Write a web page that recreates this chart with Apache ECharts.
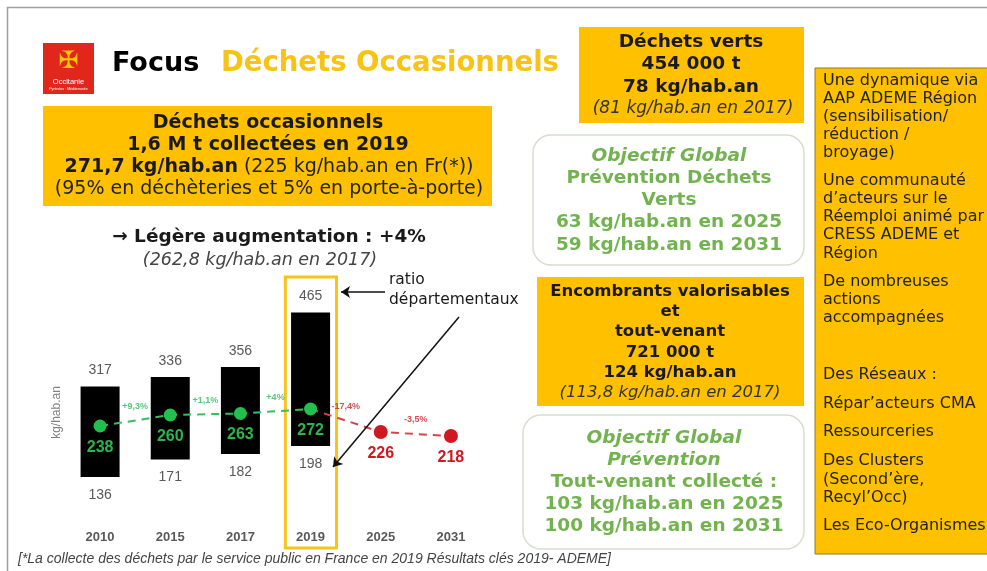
<!DOCTYPE html>
<html>
<head>
<meta charset="utf-8">
<title>Focus Déchets Occasionnels</title>
<script src="https://cdn.jsdelivr.net/npm/echarts@6/dist/echarts.min.js"></script>
<style>
  html, body { margin: 0; padding: 0; background: #fff; }
  #main { width: 987px; height: 571px; }
</style>
</head>
<body>
<div id="main"></div>
<script>
// données (kg/hab.an)
const annees = ['2010', '2015', '2017', '2019', '2025', '2031'];
const ratioMin = [136, 171, 182, 198, null, null];   // ratio départemental le plus bas
const ratioMax = [317, 336, 356, 465, null, null];   // ratio départemental le plus haut
const moyenne = [238, 260, 263, 272, null, null];    // moyenne régionale
const objectifs = [null, null, null, 272, 226, 218]; // trajectoire objectif
const evolutions = ['+9,3%', '+1,1%', '+4%', '-17,4%', '-3,5%'];

const VERD = "'DejaVu Sans', Verdana, sans-serif";
const CAL = "'Liberation Sans', Arial, sans-serif";
const JAUNE = '#FFC000';
const VERT = '#22C14F';
const ROUGE = '#CF1820';
const VERT_TXT = '#72B350';

const dash = v => (v == null ? '-' : v);
const serie = moyenne.map((v, i) => (v != null ? v : objectifs[i]));
const evolData = evolutions.map((txt, i) => ({
  value: [i + 0.5, (serie[i] + serie[i + 1]) / 2],
  label: { color: i < 3 ? '#2DB95A' : '#C8202A' }
}));

// petits helpers pour le décor
function txt(x, y, text, o) {
  return {
    type: 'text', x: x, y: y, silent: true,
    style: Object.assign({
      text: text, fill: '#1a1a1a', fontFamily: VERD, fontSize: 18,
      align: 'center', verticalAlign: 'middle',
      textAlign: 'center', textVerticalAlign: 'middle'
    }, o || {})
  };
}
function rect(x, y, w, h, style, r) {
  return { type: 'rect', silent: true, shape: { x: x, y: y, width: w, height: h, r: r || 0 }, style: style };
}
function lignes(x, ys, textes, o) {
  return textes.map((t, i) => txt(x, ys[i], t, Array.isArray(o) ? o[i] : o));
}

const BI = { fontWeight: 'bold', fontStyle: 'italic', fill: VERT_TXT, fontSize: 18.5 };
const BV = { fontWeight: 'bold', fill: VERT_TXT, fontSize: 18.5 };
const gauche = { align: 'left', textAlign: 'left', fontSize: 16, fill: '#222' };

const decor = [].concat(
  // cadre
  [rect(7.5, 7.5, 1000, 600, { fill: 'none', stroke: '#a0a0a0', lineWidth: 1.5 })],
  // logo
  [rect(43, 43, 51, 51, { fill: '#E1261C' }),
   txt(68.5, 62, '✠', { fill: '#F7C600', fontSize: 24 }),
   txt(68.5, 82, 'Occitanie', { fill: '#fff', fontSize: 7.5, fontFamily: CAL }),
   txt(68.5, 89, 'Pyrénées · Méditerranée', { fill: '#fff', fontSize: 3.5, fontFamily: CAL })],
  // titre
  [txt(112, 64, 'Focus', { fontWeight: 'bold', fontSize: 27, fill: '#000', align: 'left', textAlign: 'left' }),
   txt(221, 64, 'Déchets Occasionnels', { fontWeight: 'bold', fontSize: 27.5, fill: '#F9C313', align: 'left', textAlign: 'left' })],
  // encadré déchets occasionnels
  [rect(43, 106, 449, 100, { fill: JAUNE })],
  lignes(268, [123, 145], ['Déchets occasionnels', '1,6 M t collectées en 2019'], { fontWeight: 'bold', fontSize: 19 }),
  [txt(269, 167, '{b|271,7 kg/hab.an} (225 kg/hab.an en Fr(*))', {
     fontSize: 19, fill: '#222',
     rich: { b: { fontWeight: 'bold', fontSize: 19, fontFamily: VERD, fill: '#1a1a1a' } }
   }),
   txt(269, 189, '(95% en déchèteries et 5% en porte-à-porte)', { fontSize: 19, fill: '#222' })],
  // augmentation
  [txt(269, 237, '→ Légère augmentation : +4%', { fontWeight: 'bold', fontSize: 18.5 }),
   txt(260, 260, '(262,8 kg/hab.an en 2017)', { fontStyle: 'italic', fontSize: 17.5, fill: '#444' })],
  // annotation ratio
  [txt(389, 280, 'ratio', { fontSize: 15.5, align: 'left', textAlign: 'left' }),
   txt(389, 300, 'départementaux', { fontSize: 15.5, align: 'left', textAlign: 'left' })],
  // déchets verts
  [rect(579, 27, 225, 96, { fill: JAUNE })],
  lignes(691, [42, 64, 87], ['Déchets verts', '454 000 t', '78 kg/hab.an'], { fontWeight: 'bold', fontSize: 18.5 }),
  [txt(693, 109, '(81 kg/hab.an en 2017)', { fontStyle: 'italic', fontSize: 17, fill: '#333' })],
  // objectif déchets verts
  [rect(533, 135, 271, 130, { fill: '#fff', stroke: '#d6dece', lineWidth: 1.5 }, 18)],
  lignes(669, [156, 178, 200, 222, 245],
    ['Objectif Global', 'Prévention Déchets', 'Verts', '63 kg/hab.an en 2025', '59 kg/hab.an en 2031'],
    [BI, BV, BV, BV, BV]),
  // encombrants
  [rect(537, 277, 267, 129, { fill: JAUNE })],
  lignes(670, [292, 312, 332, 353, 373],
    ['Encombrants valorisables', 'et', 'tout-venant', '721 000 t', '124 kg/hab.an'],
    { fontWeight: 'bold', fontSize: 16.5 }),
  [txt(670, 393, '(113,8 kg/hab.an en 2017)', { fontStyle: 'italic', fontSize: 16.5, fill: '#333' })],
  // objectif tout-venant
  [rect(523, 415, 281, 134, { fill: '#fff', stroke: '#d6dece', lineWidth: 1.5 }, 18)],
  lignes(664, [438, 460, 482, 504, 526],
    ['Objectif Global', 'Prévention', 'Tout-venant collecté :', '103 kg/hab.an en 2025', '100 kg/hab.an en 2031'],
    [BI, BI, BV, BV, BV]),
  // colonne de droite
  [rect(815, 68, 200, 486, { fill: JAUNE, stroke: '#8c7a35', lineWidth: 1 })],
  lignes(823,
    [81, 99, 117, 135, 153, 181, 199, 217, 235, 254, 282, 300, 318, 375, 404, 432, 461, 480, 498, 526],
    ['Une dynamique via', 'AAP ADEME Région', '(sensibilisation/', 'réduction /', 'broyage)',
     'Une communauté', 'd’acteurs sur le', 'Réemploi animé par', 'CRESS ADEME et', 'Région',
     'De nombreuses', 'actions', 'accompagnées',
     'Des Réseaux :', 'Répar’acteurs CMA', 'Ressourceries', 'Des Clusters', '(Second’ère,', 'Recyl’Occ)',
     'Les Eco-Organismes'], gauche),
  // note
  [txt(18, 559, '[*La collecte des déchets par le service public en France en 2019 Résultats clés 2019- ADEME]',
     { fontFamily: CAL, fontStyle: 'italic', fontSize: 14, fill: '#444', align: 'left', textAlign: 'left' })]
);

const chart = echarts.init(document.getElementById('main'));
chart.setOption({
  animation: false,
  backgroundColor: '#fff',
  graphic: { elements: decor },
  grid: { left: 65, right: 501, top: 275, bottom: 21 },
  xAxis: [
    {
      type: 'category', data: annees, offset: -25,
      axisLine: { show: false }, axisTick: { show: false },
      axisLabel: { color: '#595959', fontWeight: 'bold', fontSize: 13, fontFamily: CAL, margin: 6 }
    },
    { type: 'value', min: -0.5, max: 5.5, show: false }
  ],
  yAxis: {
    type: 'value', min: -10, max: 540,
    axisLine: { show: false }, axisTick: { show: false },
    axisLabel: { show: false }, splitLine: { show: false },
    name: 'kg/hab.an', nameLocation: 'middle', nameGap: 2, nameRotate: 90,
    nameTextStyle: { color: '#808080', fontSize: 12, fontFamily: CAL }
  },
  series: [
    {
      name: 'base', type: 'bar', stack: 'ratio', barWidth: 39,
      data: ratioMin.map(dash),
      itemStyle: { color: 'rgba(0,0,0,0)' },
      label: {
        show: true, position: 'insideTop', distance: 11,
        color: '#595959', fontSize: 14, fontFamily: CAL,
        formatter: p => ratioMin[p.dataIndex]
      }
    },
    {
      name: 'ratio', type: 'bar', stack: 'ratio', barWidth: 39,
      data: ratioMax.map((v, i) => (v == null ? '-' : v - ratioMin[i])),
      itemStyle: { color: '#000' },
      label: {
        show: true, position: 'top', distance: 9,
        color: '#595959', fontSize: 14, fontFamily: CAL,
        formatter: p => ratioMax[p.dataIndex]
      }
    },
    {
      name: 'moyenne', type: 'line', data: moyenne.map(dash),
      symbol: 'circle', symbolSize: 13, z: 5,
      itemStyle: { color: VERT },
      lineStyle: { color: '#36BE63', width: 2, type: [8, 6] },
      label: {
        show: true, position: 'bottom', distance: 7,
        color: '#2CB54C', fontWeight: 'bold', fontSize: 16, fontFamily: CAL
      }
    },
    {
      name: 'objectif', type: 'line',
      data: objectifs.map((v, i) => (i === 3 ? { value: v, symbol: 'none', label: { show: false } } : dash(v))),
      symbol: 'circle', symbolSize: 14, z: 4,
      itemStyle: { color: ROUGE },
      lineStyle: { color: '#D8434A', width: 2, type: [8, 6] },
      label: {
        show: true, position: 'bottom', distance: 7,
        color: ROUGE, fontWeight: 'bold', fontSize: 16, fontFamily: CAL
      }
    },
    {
      name: 'evolution', type: 'scatter', xAxisIndex: 1, yAxisIndex: 0,
      data: evolData, symbolSize: 1, itemStyle: { color: 'rgba(0,0,0,0)' },
      label: {
        show: true, position: 'top', distance: 9,
        fontWeight: 'bold', fontSize: 9, fontFamily: CAL,
        formatter: p => evolutions[p.dataIndex]
      },
      markArea: {
        silent: true,
        itemStyle: { color: 'rgba(0,0,0,0)', borderColor: '#F7C51A', borderWidth: 3 },
        data: [[{ coord: [2.64, -6] }, { coord: [3.37, 536] }]]
      },
      markLine: {
        silent: true, symbol: ['none', 'arrow'], symbolSize: 9,
        label: { show: false },
        lineStyle: { color: '#111', width: 1.5, type: 'solid' },
        data: [
          [{ x: 385, y: 292 }, { x: 341, y: 292 }],
          [{ x: 459, y: 317 }, { x: 333, y: 467 }]
        ]
      }
    }
  ]
});
window.onresize = function () {
  chart.resize();
};
</script>
</body>
</html>
